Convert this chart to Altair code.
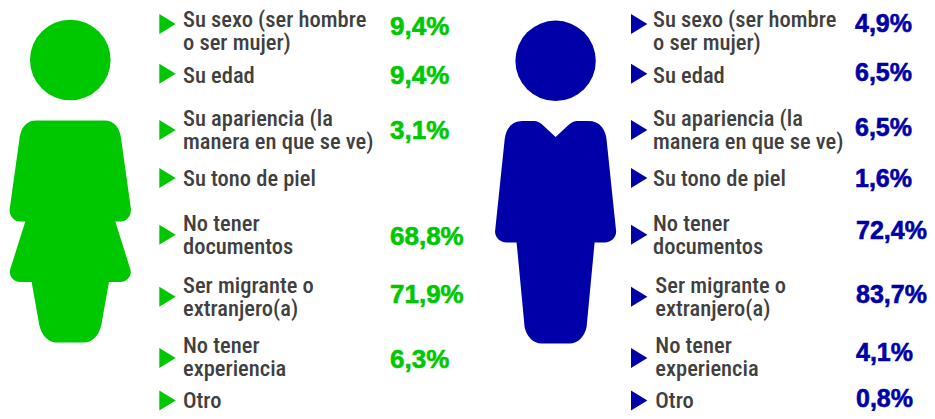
import altair as alt
import pandas as pd

# ---- chart content ----
labels = [
    "Su sexo (ser hombre\no ser mujer)",
    "Su edad",
    "Su apariencia (la\nmanera en que se ve)",
    "Su tono de piel",
    "No tener\ndocumentos",
    "Ser migrante o\nextranjero(a)",
    "No tener\nexperiencia",
    "Otro",
]
mujeres = [9.4, 9.4, 3.1, None, 68.8, 71.9, 6.3, None]
hombres = [4.9, 6.5, 6.5, 1.6, 72.4, 83.7, 4.1, 0.8]

GREEN = "#00c800"
NAVY = "#0000a8"
GREY = "#404040"

# ---- layout (reference pixels) ----
arrow_y = [24, 73.7, 130, 178, 234.7, 296.7, 358, 400.5]
label_y = [19.5, 76, 119, 179, 224, 285.7, 345.7, 400.5]  # first line of each label
pct_y_f = [26.7, 75.7, 130.7, None, 236.7, 295.3, 360, None]
pct_y_m = [24, 72.7, 128.3, 179, 230.7, 295, 352.7, 399]
label_x_m = [653, 653, 653, 653, 653, 655.3, 655.3, 655.3]
pct_x_m = [855, 855, 855, 855, 856, 856, 856, 856]

x_scale = alt.Scale(domain=[8, 927], range=[0, 919], nice=False, zero=False)
y_scale = alt.Scale(domain=[8, 411], range=[0, 403], nice=False, zero=False)
X = alt.X("x:Q", scale=x_scale, axis=None)
Y = alt.Y("y:Q", scale=y_scale, axis=None)


def fmt(v):
    return f"{v:.1f}%".replace(".", ",")


arrows_f = pd.DataFrame({"x": 167.5, "y": arrow_y})
arrows_m = pd.DataFrame({"x": 639.2, "y": arrow_y})
labels_df = pd.concat([
    pd.DataFrame({"x": 183.0, "y": label_y, "t": labels}),
    pd.DataFrame({"x": label_x_m, "y": label_y, "t": labels}),
])
pct_f = pd.DataFrame({"x": 390.0, "y": pct_y_f, "v": mujeres}).dropna()
pct_f["t"] = pct_f["v"].map(fmt)
pct_m = pd.DataFrame({"x": pct_x_m, "y": pct_y_m, "v": hombres})
pct_m["t"] = pct_m["v"].map(fmt)

ARROW = "M -8.2 -10 L 8.2 0 L -8.2 10 Z"
BODY_F = (
    "M -34 -110.5 L 34 -110.5 C 44 -110.5 50 -103 51 -91 L 60.5 -23 "
    "C 61.5 -16 57 -9.5 50 -9.5 L 45 -9.5 L 60 38 C 62 45 57 51 50 51 "
    "L 38.7 51 L 31 94 C 29 104 22 111.5 14 111.5 L -14 111.5 "
    "C -22 111.5 -29 104 -31 94 L -38.7 51 L -50 51 C -57 51 -62 45 -60 38 "
    "L -45 -9.5 L -50 -9.5 C -57 -9.5 -61.5 -16 -60.5 -23 L -51 -91 "
    "C -50 -103 -44 -110.5 -34 -110.5 Z"
)
BODY_M = (
    "M 0 -94 L 14 -107 C 17 -109.7 20 -110 23 -110 L 33 -110 "
    "C 44 -110 50 -102 51 -91 L 60.5 0 C 61 6 56 11.5 49 11.5 L 39 11.5 "
    "L 31 96 C 29 106 22 112.5 14 112.5 L -14 112.5 C -22 112.5 -29 106 -31 96 "
    "L -39 11.5 L -49 11.5 C -56 11.5 -61 6 -60.5 0 L -51 -91 "
    "C -50 -102 -44 -110 -33 -110 L -23 -110 C -20 -110 -17 -109.7 -14 -107 Z"
)


def symbol(df, shape, color, size=4):
    return alt.Chart(df).mark_point(
        shape=shape, filled=True, fill=color, stroke=None, opacity=1, size=size
    ).encode(x=X, y=Y)


def pct(df, color, size):
    return alt.Chart(df).mark_text(
        align="left", baseline="middle", font="Liberation Sans", fontWeight="bold",
        fontSize=size, color=color, stroke=color, strokeWidth=0.6
    ).encode(x=X, y=Y, text="t:N")


head_f = pd.DataFrame({"x": [70.3], "y": [60]})
body_f = pd.DataFrame({"x": [70.3], "y": [231]})
head_m = pd.DataFrame({"x": [555.6], "y": [60.8]})
body_m = pd.DataFrame({"x": [555.6], "y": [231]})

text_layer = alt.Chart(labels_df).mark_text(
    align="left", baseline="middle", font="Roboto Condensed", fontSize=22.5,
    fontWeight=500, lineHeight=23, lineBreak="\n", color=GREY
).encode(x=X, y=Y, text="t:N")

chart = alt.layer(
    symbol(head_f, "circle", GREEN, 80.6 ** 2),
    symbol(body_f, BODY_F, GREEN),
    symbol(head_m, "circle", NAVY, 80.4 ** 2),
    symbol(body_m, BODY_M, NAVY),
    symbol(arrows_f, ARROW, GREEN),
    symbol(arrows_m, ARROW, NAVY),
    text_layer,
    pct(pct_f, GREEN, 26),
    pct(pct_m, NAVY, 25),
).properties(
    width=919, height=403, padding=0, background="white",
    autosize=alt.AutoSizeParams(type="none"),
).configure_view(stroke=None)

chart.save("out.html", embed_options={"renderer": "svg", "actions": False})
